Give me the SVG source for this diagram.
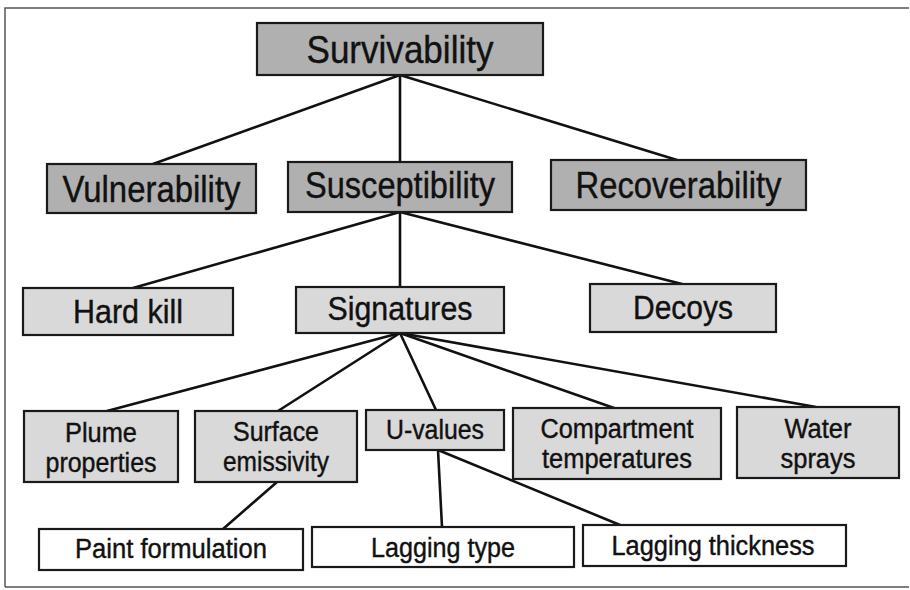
<svg xmlns="http://www.w3.org/2000/svg" width="910" height="590" viewBox="0 0 910 590">
<style>
  .frame { fill: none; stroke: #555; stroke-width: 1.5; }
  .box { stroke: #1a1a1a; stroke-width: 2.2; }
  .l1 { fill: #b0b0b0; }
  .l2 { fill: #d9d9d9; }
  .l3 { fill: #ffffff; }
  .conn line { stroke: #111; stroke-width: 2.6; stroke-linecap: round; }
  text { font-family: "Liberation Sans", Arial, sans-serif; fill: #111; stroke: #111; stroke-width: 0.4; text-anchor: middle; }
  .t35 { font-size: 39px; }
  .t33 { font-size: 36px; }
  .t30 { font-size: 33px; }
  .t25 { font-size: 27px; }
</style>
<rect x="0" y="0" width="910" height="590" fill="#ffffff"/>
<path class="frame" d="M5 587 L5 8 L909 8 M5 587 L909 587"/>

<g id="connectors" class="conn">
  <line x1="400" y1="75" x2="153" y2="164"/>
  <line x1="400" y1="75" x2="400" y2="162"/>
  <line x1="400" y1="75" x2="677" y2="160"/>
  <line x1="400" y1="212" x2="133" y2="288"/>
  <line x1="400" y1="212" x2="400" y2="287"/>
  <line x1="400" y1="212" x2="682" y2="284"/>
  <line x1="400" y1="333" x2="107" y2="411"/>
  <line x1="400" y1="333" x2="278" y2="411"/>
  <line x1="400" y1="333" x2="436" y2="410"/>
  <line x1="400" y1="333" x2="614" y2="408"/>
  <line x1="400" y1="333" x2="816" y2="407"/>
  <line x1="277" y1="482" x2="223" y2="529"/>
  <line x1="438" y1="450" x2="442" y2="527"/>
  <line x1="438" y1="450" x2="620" y2="525"/>
</g>

<g id="survivability">
  <rect class="box l1" x="257" y="23" width="286" height="52"/>
  <text class="t35" x="400" y="63" textLength="187" lengthAdjust="spacingAndGlyphs">Survivability</text>
</g>
<g id="vulnerability">
  <rect class="box l1" x="47" y="164" width="209" height="49"/>
  <text class="t33" x="151.5" y="202" textLength="178" lengthAdjust="spacingAndGlyphs">Vulnerability</text>
</g>
<g id="susceptibility">
  <rect class="box l1" x="288" y="162" width="224" height="50"/>
  <text class="t33" x="400" y="198" textLength="190" lengthAdjust="spacingAndGlyphs">Susceptibility</text>
</g>
<g id="recoverability">
  <rect class="box l1" x="551" y="160" width="255" height="50"/>
  <text class="t33" x="678.5" y="198" textLength="206" lengthAdjust="spacingAndGlyphs">Recoverability</text>
</g>

<g id="hard-kill">
  <rect class="box l2" x="23" y="288" width="210" height="47"/>
  <text class="t30" x="128" y="323" textLength="110" lengthAdjust="spacingAndGlyphs">Hard kill</text>
</g>
<g id="signatures">
  <rect class="box l2" x="296" y="287" width="208" height="46"/>
  <text class="t30" x="400" y="320" textLength="145" lengthAdjust="spacingAndGlyphs">Signatures</text>
</g>
<g id="decoys">
  <rect class="box l2" x="590" y="284" width="186" height="48"/>
  <text class="t30" x="683" y="319" textLength="100" lengthAdjust="spacingAndGlyphs">Decoys</text>
</g>

<g id="plume-properties">
  <rect class="box l2" x="24" y="411" width="154" height="71"/>
  <text class="t25" x="101" y="442" textLength="72" lengthAdjust="spacingAndGlyphs">Plume</text>
  <text class="t25" x="101" y="472" textLength="111" lengthAdjust="spacingAndGlyphs">properties</text>
</g>
<g id="surface-emissivity">
  <rect class="box l2" x="195" y="411" width="162" height="71"/>
  <text class="t25" x="276" y="441" textLength="86" lengthAdjust="spacingAndGlyphs">Surface</text>
  <text class="t25" x="276" y="471" textLength="106" lengthAdjust="spacingAndGlyphs">emissivity</text>
</g>
<g id="u-values">
  <rect class="box l2" x="366" y="410" width="138" height="40"/>
  <text class="t25" x="435" y="439" textLength="98" lengthAdjust="spacingAndGlyphs">U-values</text>
</g>
<g id="compartment-temperatures">
  <rect class="box l2" x="513" y="408" width="208" height="71"/>
  <text class="t25" x="617" y="438" textLength="153" lengthAdjust="spacingAndGlyphs">Compartment</text>
  <text class="t25" x="617" y="468" textLength="150" lengthAdjust="spacingAndGlyphs">temperatures</text>
</g>
<g id="water-sprays">
  <rect class="box l2" x="737" y="407" width="162" height="71"/>
  <text class="t25" x="818" y="438" textLength="67" lengthAdjust="spacingAndGlyphs">Water</text>
  <text class="t25" x="818" y="468" textLength="75" lengthAdjust="spacingAndGlyphs">sprays</text>
</g>

<g id="paint-formulation">
  <rect class="box l3" x="39" y="529" width="264" height="41"/>
  <text class="t25" x="171" y="558" textLength="192" lengthAdjust="spacingAndGlyphs">Paint formulation</text>
</g>
<g id="lagging-type">
  <rect class="box l3" x="312" y="527" width="262" height="40"/>
  <text class="t25" x="443" y="557" textLength="144" lengthAdjust="spacingAndGlyphs">Lagging type</text>
</g>
<g id="lagging-thickness">
  <rect class="box l3" x="583" y="525" width="263" height="41"/>
  <text class="t25" x="713" y="555" textLength="203" lengthAdjust="spacingAndGlyphs">Lagging thickness</text>
</g>
</svg>
